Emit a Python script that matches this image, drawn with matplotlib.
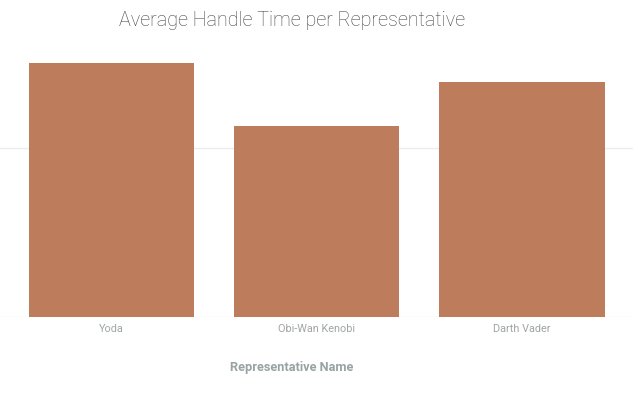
import matplotlib
matplotlib.use("Agg")
import matplotlib.pyplot as plt

names = ["Yoda", "Obi-Wan Kenobi", "Darth Vader"]
handle_time = [7.52, 5.65, 6.95]

plt.rcParams['font.family'] = ['Roboto', 'DejaVu Sans']

fig = plt.figure(figsize=(6.33, 3.94), dpi=100)
# axes: left 0, right 633, bottom at y=317, top at y=45 (pixels)
ax = fig.add_axes([0, (394 - 317) / 394, 1, (317 - 45) / 394])

x = list(range(len(names)))
ax.bar(x, handle_time, width=0.805, color="#bd7c5b", zorder=2)

ax.set_xlim(-0.543, 2.54)
ax.set_ylim(0, 5 * (317 - 45) / 169)
ax.set_yticks([0, 5])
ax.yaxis.grid(True, color="#ececec", linewidth=1, zorder=0)
ax.tick_params(axis="y", left=False, labelleft=False)
ax.set_xticks(x)
ax.set_xticklabels(names, fontsize=7.8, color="#a0a4a4")
ax.tick_params(axis="x", length=0, pad=5)
for s in ax.spines.values():
    s.set_visible(False)

fig.text(292 / 633, 1 - 21 / 394, "Average Handle Time per Representative",
         ha="center", va="center", fontsize=14.2, color="#454545", fontweight="light")
fig.text(292 / 633, 1 - 367 / 394, "Representative Name",
         ha="center", va="center", fontsize=9.2, color="#98a3a3", fontweight="bold")

fig.savefig("out.png", dpi=100)
